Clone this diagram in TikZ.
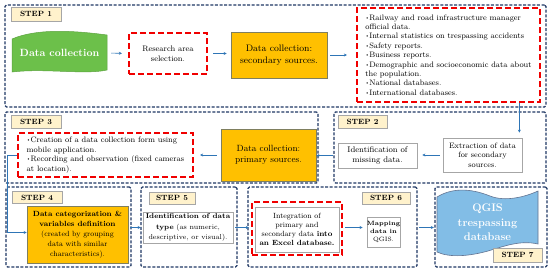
\documentclass[tikz,border=0pt]{standalone}
\usetikzlibrary{arrows.meta}
\definecolor{navy}{HTML}{203864}
\definecolor{redd}{HTML}{F00000}
\definecolor{lbl}{HTML}{FFF2CC}
\definecolor{org}{HTML}{FFC000}
\definecolor{obord}{HTML}{7F7F5F}
\definecolor{grn}{HTML}{6CC04A}
\definecolor{sky}{HTML}{82BDE6}
\definecolor{arrc}{HTML}{2E75B6}
\definecolor{gbord}{HTML}{A6A6A6}
\newcommand\mybul{\raisebox{0.3ex}{\scalebox{0.6}{\textbullet}}}
\begin{document}
\begin{tikzpicture}[x=1pt,y=-1pt,
 stepbox/.style={draw=navy, line width=1.3pt, dash pattern=on 3pt off 1.6pt, rounded corners=1.5pt, inner sep=0},
 lblbox/.style={draw=gbord, fill=lbl, line width=0.7pt, inner sep=0, font=\fontsize{7.6}{9}\selectfont\bfseries},
 redbox/.style={draw=redd, line width=2.2pt, dash pattern=on 6pt off 3pt, inner sep=0},
 whitebox/.style={draw=gbord, fill=white, line width=0.7pt, inner sep=0, align=center},
 orgbox/.style={draw=obord, fill=org, line width=0.7pt, inner sep=0, align=center},
 arr/.style={draw=arrc, line width=0.6pt, -{Stealth[length=3pt,width=3pt]}},
]
\useasboundingbox (0,0) rectangle (550,271);
\fill[white] (0,0) rectangle (550,271);

% ---------- STEP 1 ----------
\node[stepbox, minimum width=541pt, minimum height=102pt] (s1) at (275.5,56) {};
\node[lblbox, minimum width=50pt, minimum height=14pt] (l1) at (36,14) {STEP 1};
\filldraw[fill=grn, draw=grn!85!black, line width=0.5pt] (12,39) .. controls (35,29) and (70,30) .. (107,35) -- (107,70) .. controls (85,75) and (45,68) .. (12,72) -- cycle;
\node[font=\fontsize{10.5}{12}\selectfont\bfseries, text=white, minimum width=95pt, minimum height=39pt, inner sep=0] (dc) at (59.5,53) {Data collection};
\node[redbox, fill=white, minimum width=78pt, minimum height=41pt, align=center, font=\fontsize{8}{10}\selectfont] (ra) at (168,53.5) {Research area\\selection.};
\node[orgbox, minimum width=96pt, minimum height=46pt, font=\fontsize{9.4}{12}\selectfont] (os) at (279,55) {Data collection:\\secondary sources.};
\node[redbox, fill=white, minimum width=183pt, minimum height=94pt, align=left, font=\fontsize{7.9}{9.4}\selectfont] (li1) at (448.5,55) {\mybul Railway and road infrastructure manager\\official data.\\\mybul Internal statistics on trespassing accidents\\\mybul Safety reports.\\\mybul Business reports.\\\mybul Demographic and socioeconomic data about\\the population.\\\mybul National databases.\\\mybul International databases.};

% ---------- STEP 3 ----------
\node[stepbox, minimum width=313pt, minimum height=71pt] (s3) at (161.5,147.5) {};
\node[lblbox, minimum width=50pt, minimum height=13pt] (l3) at (36,121.5) {STEP 3};
\node[redbox, fill=white, minimum width=175pt, minimum height=44pt, align=left, font=\fontsize{7.9}{9.5}\selectfont] (li3) at (105.5,155) {\mybul Creation of a data collection form using\\mobile application.\\\mybul Recording and observation (fixed cameras\\at location).};
\node[orgbox, minimum width=95pt, minimum height=52pt, font=\fontsize{9}{11.5}\selectfont] (op) at (268.5,155) {Data collection:\\primary sources.};

% ---------- STEP 2 ----------
\node[stepbox, minimum width=212pt, minimum height=71pt] (s2) at (440,147.5) {};
\node[lblbox, minimum width=49pt, minimum height=13pt] (l2) at (362.5,121.5) {STEP 2};
\node[whitebox, minimum width=79pt, minimum height=25pt, font=\fontsize{8.2}{10.5}\selectfont] (idm) at (377.5,155.5) {Identification of\\missing data.};
\node[whitebox, minimum width=79pt, minimum height=34pt, font=\fontsize{7.8}{9.5}\selectfont] (ext) at (482.5,155) {Extraction of data\\for secondary\\sources.};

% ---------- STEP 4 ----------
\node[stepbox, minimum width=125pt, minimum height=80pt] (s4) at (68.5,227) {};
\node[lblbox, minimum width=50pt, minimum height=12pt] (l4) at (37,197.5) {STEP 4};
\node[orgbox, minimum width=101pt, minimum height=57pt, font=\fontsize{7.5}{10}\selectfont] (o4) at (77.5,234.5) {\textbf{Data categorization \&}\\\textbf{variables definition}\\(created by grouping\\data with similar\\characteristics).};

% ---------- STEP 5 ----------
\node[stepbox, minimum width=96pt, minimum height=80pt] (s5) at (189,227) {};
\node[lblbox, minimum width=46pt, minimum height=12pt] (l5) at (172,198) {STEP 5};
\node[whitebox, minimum width=90pt, minimum height=31pt, font=\fontsize{7.1}{10.3}\selectfont] (dt) at (188,227.5) {\textbf{Identification of data}\\\textbf{type} (as numeric,\\descriptive, or visual).};

% ---------- STEP 6 ----------
\node[stepbox, minimum width=169pt, minimum height=80pt] (s6) at (332.5,227) {};
\node[lblbox, minimum width=48pt, minimum height=12pt] (l6) at (386,198) {STEP 6};
\node[redbox, minimum width=90pt, minimum height=53pt] (r6) at (297,228.5) {};
\node[whitebox, minimum width=84pt, minimum height=45pt, font=\fontsize{7.5}{9.2}\selectfont] (ig) at (297,229.5) {Integration of\\primary and\\secondary data \textbf{into}\\\textbf{an Excel database.}};
\node[whitebox, minimum width=33pt, minimum height=30pt, font=\fontsize{6.2}{8}\selectfont] (mp) at (383.5,232) {\textbf{Mapping}\\\textbf{data in}\\QGIS.};

% ---------- STEP 7 ----------
\node[stepbox, minimum width=112pt, minimum height=80pt] (s7) at (491,227) {};
\filldraw[fill=sky, draw=navy!70, line width=0.6pt] (437,197) .. controls (455,186) and (475,190) .. (490,196) .. controls (505,202) and (525,197) .. (538,191) -- (538,244) .. controls (520,240) and (505,246) .. (488,251) .. controls (470,256) and (450,258) .. (437,252) -- cycle;
\node[minimum width=101pt, minimum height=60pt, inner sep=0, align=center, text=white, font=\fontsize{11}{14.5}\selectfont\bfseries] (qg) at (487.5,222.5) {QGIS\\trespassing\\database};
\node[lblbox, minimum width=49pt, minimum height=14pt] (l7) at (517.5,255) {STEP 7};

% ---------- connectors ----------
\draw[arr, shorten <=4pt, shorten >=6pt] (dc.east) -- (ra.west);
\draw[arr, shorten <=5pt, shorten >=4pt] (ra.east) -- (os.west |- ra.east);
\draw[arr, shorten <=3pt, shorten >=9pt] (os.east) -- (li1.west |- os.east);
\draw[arr, shorten >=5pt] ([xshift=-3pt]ext.north east |- li1.south) -- ([xshift=-3pt]ext.north east);
\draw[arr, shorten <=3pt, shorten >=5pt] (ext.west) -- (idm.east |- ext.west);
\draw[arr, shorten <=5pt, shorten >=0pt] (idm.west) -- (op.east |- idm.west);
\draw[arr, shorten <=4pt, shorten >=6pt] (op.west) -- (li3.east |- op.west);
\draw[arr] (li3.west) -- ++(-10,0) |- ([yshift=2pt]o4.west);
\draw[arr, shorten <=2pt, shorten >=2pt] (o4.east |- dt.west) -- (dt.west);
\draw[arr, shorten <=2pt, shorten >=2pt] (dt.east) -- (r6.west |- dt.east);
\draw[arr, shorten <=6pt, shorten >=4pt] (ig.east |- dt.east) -- (mp.west |- dt.east);
\draw[arr, shorten <=1pt, shorten >=3pt] (s6.east |- dt.east) -- (qg.west |- dt.east);
\end{tikzpicture}
\end{document}
